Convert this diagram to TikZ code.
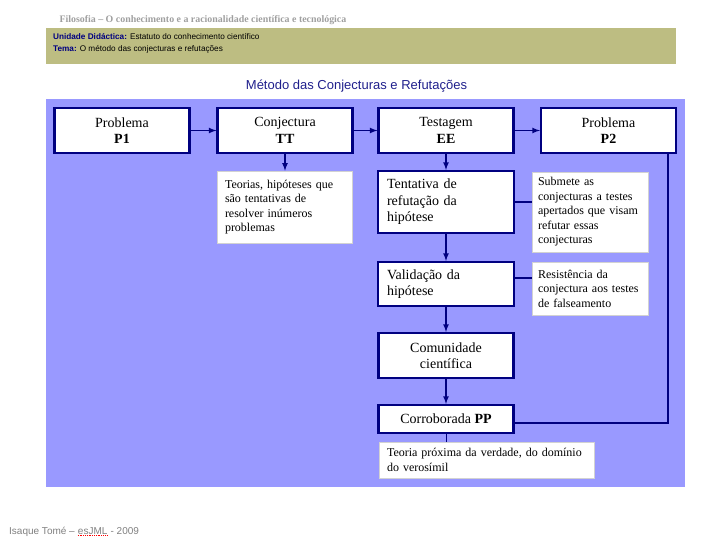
\documentclass[tikz,border=0pt]{standalone}
\usepackage{fontspec}
\setmainfont{Liberation Serif}
\newfontfamily\arialfont{Liberation Sans}
\usepackage{xcolor}
\usetikzlibrary{calc,positioning}
\definecolor{panelblue}{HTML}{9999FF}
\definecolor{bandolive}{HTML}{BDBD82}
\definecolor{navyline}{HTML}{000080}
\definecolor{titleblue}{HTML}{1F1F8C}

\begin{document}
\begin{tikzpicture}[x=1pt,y=-1pt,
	stagebox/.style={draw=navyline,line width=2.2pt,fill=white,inner sep=0pt,minimum width=135pt,minimum height=45pt,align=center,font=\fontsize{14}{16.5}\selectfont},
	leftbox/.style={stagebox,text width=118pt,inner xsep=9pt,align=left},
	notebox/.style={draw=gray!35,line width=0.6pt,fill=white,inner xsep=8pt,inner ysep=0pt,align=left,font=\fontsize{12}{14.5}\selectfont},
	flow/.style={-latex,navyline,line width=1.6pt},
	link/.style={navyline,line width=1.6pt},
	credit/.style={text=gray,inner sep=0pt,font=\arialfont\fontsize{10}{12}\selectfont}]
	\useasboundingbox (0,0) rectangle (712,541);
	% header and panel
	\fill[bandolive] (46,28) rectangle (676,64);
	\fill[panelblue] (46,99) rectangle (685,487);
	\node[anchor=west,text=gray!75,font=\bfseries\fontsize{9.9}{12}\selectfont] (course) at (56,20) {Filosofia – O conhecimento e a racionalidade científica e tecnológica};
	\node[anchor=west,inner sep=0pt,font=\arialfont\fontsize{8.2}{10}\selectfont] (unit) at (53,37) {\textcolor{navyline}{\bfseries Unidade Didáctica:} Estatuto do conhecimento científico};
	\node[anchor=west,inner sep=0pt,font=\arialfont\fontsize{8.2}{10}\selectfont] (theme) at (53,49) {\textcolor{navyline}{\bfseries Tema:} O método das conjecturas e refutações};
	\node[text=titleblue,font=\arialfont\fontsize{13}{15}\selectfont] (title) at (356.5,86) {Método das Conjecturas e Refutações};
	% top row
	\node[stagebox] (p1) at (122,130.5) {Problema\\\textbf{P1}};
	\node[stagebox] (conj) at (285,130.5) {Conjectura\\\textbf{TT}};
	\node[stagebox] (test) at (446,130.5) {Testagem\\\textbf{EE}};
	\node[stagebox] (p2) at (608.5,130.5) {Problema\\\textbf{P2}};
	% column under Testagem
	\node[notebox,text width=119pt,minimum height=72pt] (theories) at (284.5,207) {Teorias, hipóteses que\\são tentativas de\\resolver inúmeros\\problemas};
	\node[leftbox,minimum height=62pt] (attempt) at (446,202) {Tentativa de\\refutação da\\hipótese};
	\node[notebox,text width=104pt,inner xsep=6pt,minimum height=80pt] (submit) at (590,212) {Submete as\\conjecturas a testes\\apertados que visam\\refutar essas\\conjecturas};
	\node[leftbox,minimum height=44pt] (valid) at (446,284) {Validação da\\hipótese};
	\node[notebox,text width=104pt,inner xsep=6pt,minimum height=53pt] (resist) at (590,288.5) {Resistência da\\conjectura aos testes\\de falseamento};
	\node[stagebox] (community) at (446,355.5) {Comunidade\\científica};
	\node[stagebox,minimum height=28pt] (corrob) at (446,419) {Corroborada \textbf{PP}};
	\node[notebox,text width=199pt,minimum height=36pt] (verisim) at (486.5,460) {Teoria próxima da verdade, do domínio\\do verosímil};
	% connectors
	\draw[flow] (p1) -- (conj);
	\draw[flow] (conj) -- (test);
	\draw[flow] (test) -- (p2);
	\draw[flow] (conj.south) -- (conj.south |- theories.north);
	\draw[flow] (test) -- (attempt);
	\draw[flow] (attempt) -- (valid);
	\draw[flow] (valid) -- (community);
	\draw[flow] (community) -- (corrob);
	\draw[link] (attempt.east) -- (attempt.east -| submit.west);
	\draw[link] ([yshift=6pt]valid.east) -- ([yshift=6pt]valid.east -| resist.west);
	\draw[link,line width=1pt] (corrob.south) -- (corrob.south |- verisim.north);
	\draw[link] ([yshift=-4pt]corrob.east) -| ([xshift=-9pt]p2.south east);
	% footer
	\node[credit,anchor=base west] (author) at (9,534) {Isaque Tomé –\ \mbox{}};
	\node[credit,anchor=base west] (school) at (author.base east) {esJML};
	\node[credit,anchor=base west] (year) at (school.base east) {\ - 2009};
	\draw[red,densely dotted,line width=0.8pt] ([yshift=-1.5pt]school.base west) -- ([yshift=-1.5pt]school.base east);
\end{tikzpicture}
\end{document}
